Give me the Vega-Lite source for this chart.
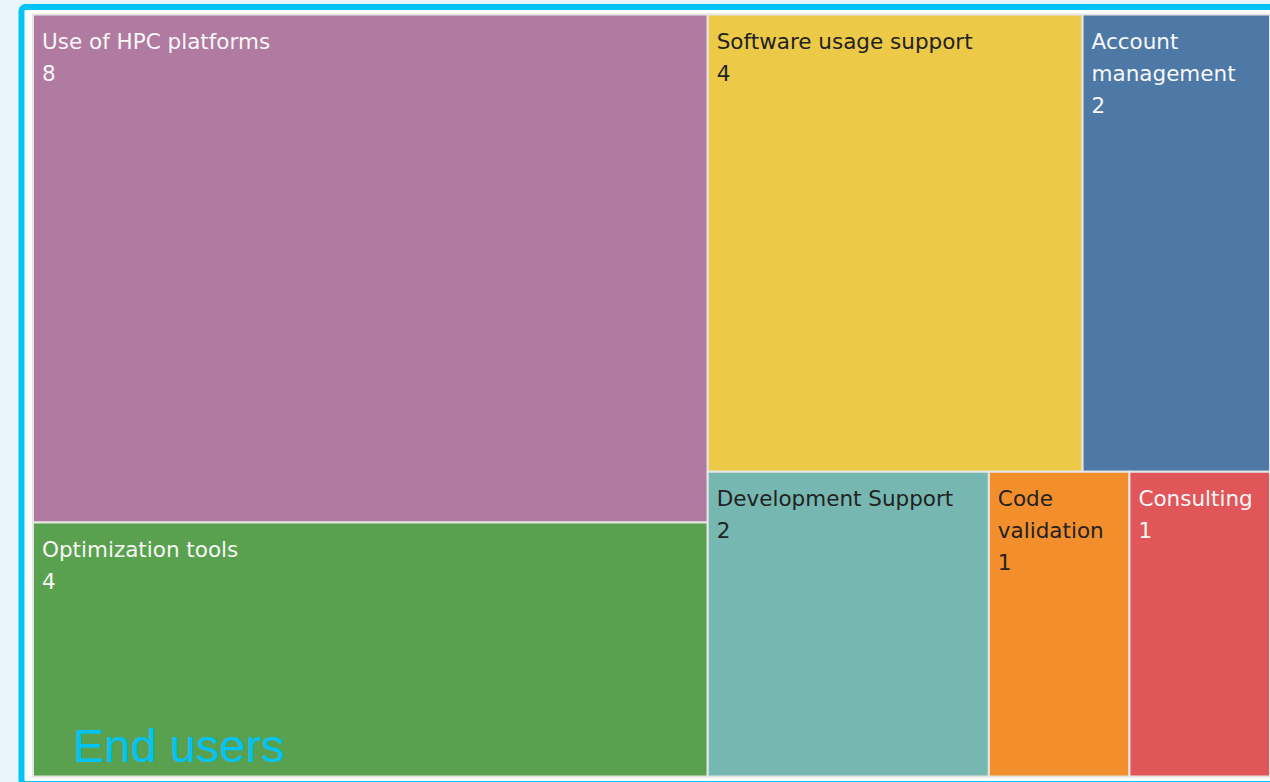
{
  "$schema": "https://vega.github.io/schema/vega-lite/v6.json",
  "autosize": "none",
  "width": 1260,
  "height": 777,
  "padding": {"left": 21.5, "top": 7, "right": 0, "bottom": 0},
  "background": "#e9f5fb",
  "config": {
    "view": {"fill": "white", "stroke": "#00c3f7", "strokeWidth": 6, "cornerRadius": 4},
    "axis": {"disable": true}
  },
  "layer": [
    {
      "data": {
        "values": [
          {"name": "Use of HPC platforms", "value": 8, "column": 1, "row": 1, "order": 1},
          {"name": "Optimization tools", "value": 4, "column": 1, "row": 2, "order": 1},
          {"name": "Software usage support", "value": 4, "column": 2, "row": 1, "order": 1},
          {"name": "Account management", "value": 2, "column": 2, "row": 1, "order": 2},
          {"name": "Development Support", "value": 2, "column": 2, "row": 2, "order": 1},
          {"name": "Code validation", "value": 1, "column": 2, "row": 2, "order": 2},
          {"name": "Consulting", "value": 1, "column": 2, "row": 2, "order": 3}
        ]
      },
      "transform": [
        {"joinaggregate": [{"op": "sum", "field": "value", "as": "colTotal"}], "groupby": ["column"]},
        {"joinaggregate": [{"op": "sum", "field": "value", "as": "rowTotal"}], "groupby": ["column", "row"]},
        {"window": [{"op": "sum", "field": "value", "as": "colEnd"}], "sort": [{"field": "column", "order": "ascending"}], "frame": [null, 0], "ignorePeers": false},
        {"window": [{"op": "sum", "field": "value", "as": "rowEnd"}], "groupby": ["column"], "sort": [{"field": "row", "order": "ascending"}], "frame": [null, 0], "ignorePeers": false},
        {"stack": "value", "groupby": ["column", "row"], "sort": [{"field": "order", "order": "ascending"}], "as": ["itemStart", "itemEnd"]},
        {"calculate": "datum.colEnd - datum.colTotal + datum.colTotal * datum.itemStart / datum.rowTotal", "as": "x0"},
        {"calculate": "datum.colEnd - datum.colTotal + datum.colTotal * datum.itemEnd / datum.rowTotal", "as": "x1"},
        {"calculate": "(datum.rowEnd - datum.rowTotal) / datum.colTotal", "as": "y0"},
        {"calculate": "datum.rowEnd / datum.colTotal", "as": "y1"},
        {"calculate": "(datum.x1 - datum.x0 < 3.5 ? replace(datum.name, ' ', '\\n') : datum.name) + '\\n' + datum.value", "as": "label"}
      ],
      "layer": [
        {
          "mark": {"type": "rect", "stroke": "#e6e6e6", "strokeWidth": 2},
          "encoding": {
            "x": {"field": "x0", "type": "quantitative", "scale": {"domain": [0, 22], "nice": false, "zero": false, "padding": 11.5}, "axis": null},
            "x2": {"field": "x1"},
            "y": {"field": "y0", "type": "quantitative", "scale": {"domain": [0, 1], "nice": false, "zero": false, "reverse": true, "padding": 7.5}, "axis": null},
            "y2": {"field": "y1"},
            "color": {
              "field": "name",
              "type": "nominal",
              "legend": null,
              "scale": {
                "domain": ["Use of HPC platforms", "Optimization tools", "Software usage support", "Account management", "Development Support", "Code validation", "Consulting"],
                "range": ["#b07aa1", "#59a14f", "#edc948", "#4e79a7", "#76b7b2", "#f28e2b", "#e15759"]
              }
            }
          }
        },
        {
          "mark": {"type": "text", "align": "left", "baseline": "alphabetic", "dx": 9, "dy": 34, "fontSize": 21.5, "lineHeight": 32, "lineBreak": "\n", "font": "DejaVu Sans"},
          "encoding": {
            "x": {"field": "x0", "type": "quantitative"},
            "y": {"field": "y0", "type": "quantitative"},
            "text": {"field": "label"},
            "color": {
              "condition": {"test": "indexof(['Software usage support', 'Development Support', 'Code validation'], datum.name) >= 0", "value": "#222222"},
              "value": "#f7f7f7"
            }
          }
        }
      ]
    },
    {
      "data": {"values": [{"caption": "End users"}]},
      "mark": {"type": "text", "align": "left", "baseline": "alphabetic", "dx": 40, "dy": -15, "fontSize": 47, "font": "Liberation Sans", "color": "#00c3f7"},
      "encoding": {
        "x": {"datum": 0, "type": "quantitative"},
        "y": {"datum": 1, "type": "quantitative"},
        "text": {"field": "caption"}
      }
    }
  ]
}
